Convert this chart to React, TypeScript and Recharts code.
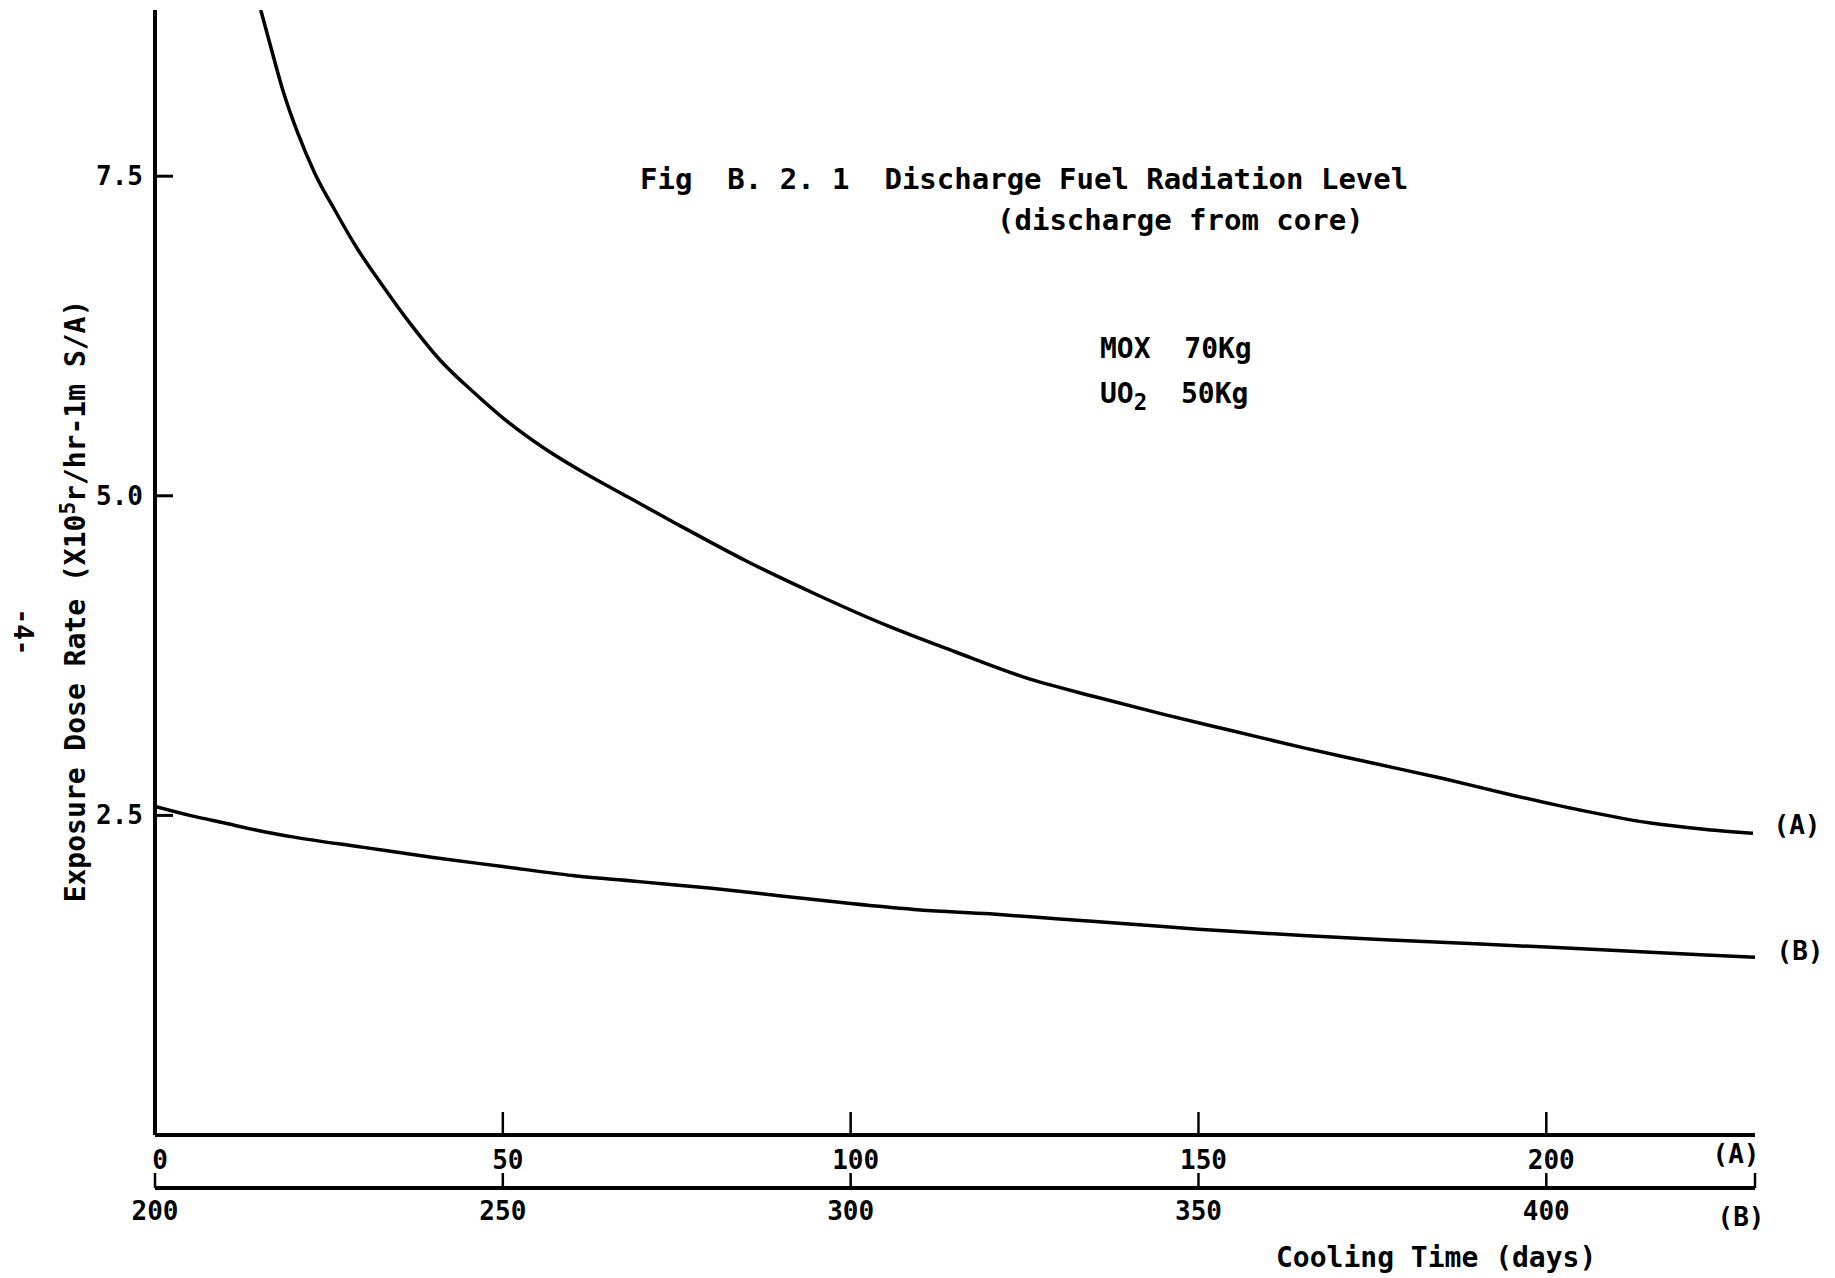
import React from 'react';
import { LineChart, Line, XAxis, YAxis } from 'recharts';

// Curve (A): MOX, cooling time 0..230 days (lower scale A)
const daysA = [15.2, 16.5, 18.5, 20.5, 23, 26, 29, 32.5, 36.5, 41, 46, 50, 56, 62, 68, 75, 85, 95, 105, 115, 125, 135, 145, 155, 165, 175, 185, 195, 205, 215, 223, 229.7];
const rateA = [8.8, 8.54, 8.15, 7.84, 7.52, 7.22, 6.94, 6.66, 6.36, 6.06, 5.8, 5.61, 5.37, 5.17, 4.99, 4.78, 4.49, 4.23, 3.99, 3.78, 3.58, 3.43, 3.29, 3.16, 3.03, 2.91, 2.79, 2.66, 2.54, 2.44, 2.39, 2.36];

// Curve (B): UO2, cooling time 200..430 days (lower scale B)
const daysB = [200, 205, 210, 215, 220, 230, 240, 250, 260, 270, 280, 290, 300, 310, 320, 330, 340, 350, 365, 380, 400, 415, 430];
const rateB = [2.57, 2.5, 2.44, 2.38, 2.33, 2.25, 2.17, 2.1, 2.03, 1.98, 1.93, 1.87, 1.81, 1.76, 1.73, 1.69, 1.65, 1.61, 1.56, 1.52, 1.47, 1.43, 1.39];

const xTicksA = [0, 50, 100, 150, 200];
const xTicksB = [200, 250, 300, 350, 400, 430];
const yTicks = [2.5, 5.0, 7.5];

const dataA = daysA.map((d, i) => ({ day: d, rate: rateA[i] }));
const dataB = daysB.map((d, i) => ({ day: d, rate: rateB[i] }));

const FONT = "'DejaVu Sans Mono', monospace";

const TickY = (props: any) => {
  const { x, y, payload } = props;
  return (
    <g>
      <line x1={x} y1={y} x2={x + 18} y2={y} stroke="#000" strokeWidth={3} />
      <text x={x - 12} y={y} textAnchor="end" dominantBaseline="central" fontFamily={FONT} fontWeight="bold" fontSize={26} fill="#000">
        {Number(payload.value).toFixed(1)}
      </text>
    </g>
  );
};

const TickA = (props: any) => {
  const { x, y, payload } = props;
  return (
    <g>
      {payload.value !== 0 && <line x1={x} y1={y} x2={x} y2={y - 23} stroke="#000" strokeWidth={2.5} />}
      <text x={x + 5} y={y + 25} textAnchor="middle" dominantBaseline="central" fontFamily={FONT} fontWeight="bold" fontSize={26} fill="#000">
        {payload.value}
      </text>
    </g>
  );
};

const TickB = (props: any) => {
  const { x, y, payload } = props;
  const isEnd = payload.value === 430;
  return (
    <g>
      <line x1={x} y1={y} x2={x} y2={y - 15} stroke="#000" strokeWidth={2.5} />
      {!isEnd && (
        <text x={x} y={y + 23} textAnchor="middle" dominantBaseline="central" fontFamily={FONT} fontWeight="bold" fontSize={26} fill="#000">
          {payload.value}
        </text>
      )}
    </g>
  );
};

const txt: React.CSSProperties = {
  position: 'absolute',
  fontFamily: FONT,
  fontWeight: 'bold',
  color: '#000',
  whiteSpace: 'nowrap',
  lineHeight: 1,
};

export default function App() {
  return (
    <div style={{ position: 'fixed', left: 0, top: 0, width: 1835, height: 1278, background: '#fff', overflow: 'hidden' }}>
      <LineChart width={1835} height={1278} margin={{ top: 10, right: 80, bottom: 0, left: 0 }}>
        <XAxis
          xAxisId="a"
          dataKey="day"
          type="number"
          domain={[0, 230]}
          ticks={xTicksA}
          interval={0}
          tickSize={0}
          tickMargin={0}
          tickLine={false}
          tick={<TickA />}
          axisLine={{ stroke: '#000', strokeWidth: 4 }}
          height={53}
          allowDataOverflow
        />
        <XAxis
          xAxisId="b"
          dataKey="day"
          type="number"
          domain={[200, 430]}
          ticks={xTicksB}
          interval={0}
          tickSize={0}
          tickMargin={0}
          tickLine={false}
          tick={<TickB />}
          axisLine={{ stroke: '#000', strokeWidth: 4 }}
          height={90}
          allowDataOverflow
        />
        <YAxis
          type="number"
          domain={[0, 8.8]}
          ticks={yTicks}
          interval={0}
          tickSize={0}
          tickMargin={0}
          tickLine={false}
          tick={<TickY />}
          axisLine={{ stroke: '#000', strokeWidth: 4 }}
          width={155}
          allowDataOverflow
        />
        <Line xAxisId="a" data={dataA} dataKey="rate" type="monotone" stroke="#000" strokeWidth={3.5} dot={false} activeDot={false} isAnimationActive={false} />
        <Line xAxisId="b" data={dataB} dataKey="rate" type="monotone" stroke="#000" strokeWidth={3.5} dot={false} activeDot={false} isAnimationActive={false} />
      </LineChart>

      <div style={{ ...txt, left: 640, top: 179, fontSize: 29, transform: 'translateY(-50%)' }}>Fig&nbsp;&nbsp;B. 2. 1&nbsp;&nbsp;Discharge Fuel Radiation Level</div>
      <div style={{ ...txt, left: 997, top: 220, fontSize: 29, transform: 'translateY(-50%)' }}>(discharge from core)</div>
      <div style={{ ...txt, left: 1100, top: 349, fontSize: 28, transform: 'translateY(-50%)' }}>MOX&nbsp;&nbsp;70Kg</div>
      <div style={{ ...txt, left: 1100, top: 394, fontSize: 28, transform: 'translateY(-50%)' }}>
        UO<sub style={{ fontSize: '0.8em', verticalAlign: 'sub', lineHeight: 0 }}>2</sub>&nbsp;&nbsp;50Kg
      </div>

      <div style={{ ...txt, left: 76, top: 601, fontSize: 28, transform: 'translate(-50%, -50%) rotate(-90deg)' }}>
        Exposure Dose Rate (X10<sup style={{ fontSize: '0.75em', verticalAlign: 'super', lineHeight: 0 }}>5</sup>r/hr-1m S/A)
      </div>
      <div style={{ ...txt, left: 23, top: 632, fontSize: 26, transform: 'translate(-50%, -50%) rotate(90deg)' }}>-4-</div>

      <div style={{ ...txt, left: 1797, top: 825, fontSize: 26, transform: 'translate(-50%, -50%)' }}>(A)</div>
      <div style={{ ...txt, left: 1800, top: 951, fontSize: 26, transform: 'translate(-50%, -50%)' }}>(B)</div>
      <div style={{ ...txt, left: 1736, top: 1154, fontSize: 26, transform: 'translate(-50%, -50%)' }}>(A)</div>
      <div style={{ ...txt, left: 1741, top: 1217, fontSize: 26, transform: 'translate(-50%, -50%)' }}>(B)</div>

      <div style={{ ...txt, left: 1276, top: 1258, fontSize: 28, transform: 'translateY(-50%)' }}>Cooling Time (days)</div>
    </div>
  );
}
